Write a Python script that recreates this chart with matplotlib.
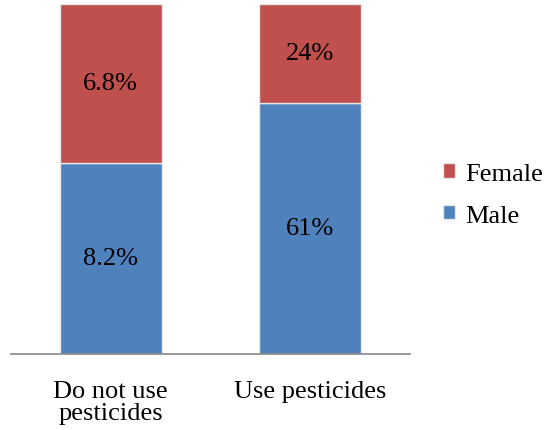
import matplotlib.pyplot as plt
import numpy as np

# Share of respondents by pesticide use and sex
categories = ["Do not use\npesticides", "Use pesticides"]
male = [8.2, 61]
female = [6.8, 24]
male_labels = ["8.2%", "61%"]
female_labels = ["6.8%", "24%"]

plt.rcParams['font.family'] = ['Liberation Serif', 'DejaVu Serif']

blue = "#4F81BD"
red = "#C0504D"

male_arr = np.array(male, dtype=float)
female_arr = np.array(female, dtype=float)
totals = male_arr + female_arr
male_share = male_arr / totals
female_share = female_arr / totals

fig = plt.figure(figsize=(5.46, 4.31), dpi=100)
ax = fig.add_axes([11 / 546, (431 - 355) / 431, 399 / 546, 350 / 431])

x = np.arange(len(categories))
width = 0.51
b1 = ax.bar(x, male_share, width, color=blue, edgecolor="#e8e8e8", linewidth=1, label="Male")
b2 = ax.bar(x, female_share, width, bottom=male_share, color=red, edgecolor="#e8e8e8",
            linewidth=1, label="Female")

fs = 19
for i in range(len(categories)):
    ax.text(x[i], male_share[i] / 2, male_labels[i], ha="center", va="center", fontsize=fs)
    ax.text(x[i], male_share[i] + female_share[i] / 2, female_labels[i], ha="center",
            va="center", fontsize=fs)

ax.set_xlim(-0.5, 1.5)
ax.set_ylim(0, 1)
ax.set_xticks(x)
ax.set_xticklabels(categories, fontsize=fs, linespacing=0.95)
ax.tick_params(axis="x", length=0, pad=19)
ax.set_yticks([])
for side in ["top", "right", "left"]:
    ax.spines[side].set_visible(False)
ax.spines["bottom"].set_color("#888888")
ax.spines["bottom"].set_linewidth(1.2)

handles = [b2, b1]
ax.legend(handles, ["Female", "Male"], loc="center left", bbox_to_anchor=(1.083, 0.455),
          frameon=False, fontsize=fs, handlelength=0.45, handleheight=0.45,
          handletextpad=0.4, labelspacing=0.75, borderpad=0, borderaxespad=0)

fig.savefig("out.png", dpi=100)
